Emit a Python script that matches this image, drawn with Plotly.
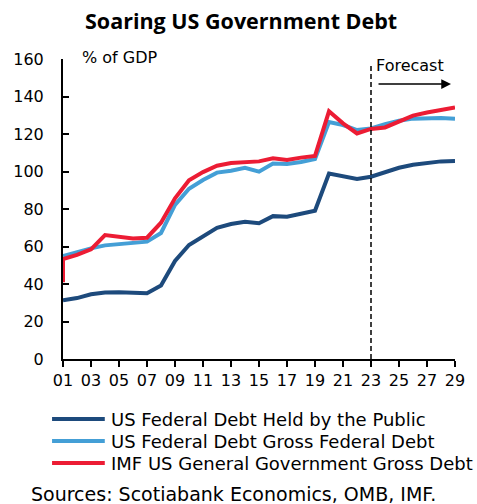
import plotly.graph_objects as go

# ---- data (% of GDP) ----
years = list(range(2001, 2030))
tick_years = list(range(2001, 2030, 2))
tick_labels = [f"{y % 100:02d}" for y in tick_years]

debt_held_by_public = [31.3, 32.5, 34.5, 35.5, 35.6, 35.3, 35.1, 39.2, 52.3, 60.8,
                       65.5, 70.0, 72.0, 73.2, 72.4, 76.2, 75.9, 77.3, 79.1, 98.9,
                       97.2, 96.0, 97.2, 99.4, 102.0, 103.6, 104.7, 105.4, 105.6]

gross_federal_debt = [54.9, 57.0, 59.0, 60.6, 61.3, 61.8, 62.6, 67.2, 82.2, 90.8,
                      95.5, 99.4, 100.4, 102.0, 99.9, 104.3, 104.0, 105.1, 106.7, 126.4,
                      124.8, 122.1, 123.0, 125.3, 127.1, 128.2, 128.5, 128.5, 128.2]

imf_years = [2001] + years
imf_general_gov_debt = [41.0, 53.3, 55.5, 58.5, 66.1, 65.2, 64.3, 64.7, 72.7, 85.7, 95.3,
                        99.7, 103.1, 104.5, 104.7, 105.4, 107.0, 106.1, 107.4, 108.3, 132.1,
                        125.7, 120.3, 122.7, 123.5, 126.9, 129.8, 131.5, 133.1, 134.2]

forecast_start = 2023
forecast_top = 157

series_names = ["US Federal Debt Held by the Public",
                "US Federal Debt Gross Federal Debt",
                "IMF US General Government Gross Debt"]
series_colors = ["#1d4a7c", "#449fd6", "#ec1c34"]

# ---- layout geometry (pixels) ----
W, H = 477, 504
ML, MR, MT, MB = 63, 20, 59, 145
PW, PH = W - ML - MR, H - MT - MB
FONT = "DejaVu Sans"
TITLE_FONT = "Open Sans"


def px_x(px):
    return (px - ML) / PW


def px_y(py):
    return (H - MB - py) / PH


fig = go.Figure()
for xs, ys, name, color in [
    (years, debt_held_by_public, series_names[0], series_colors[0]),
    (years, gross_federal_debt, series_names[1], series_colors[1]),
    (imf_years, imf_general_gov_debt, series_names[2], series_colors[2]),
]:
    fig.add_trace(go.Scatter(x=xs, y=ys, mode="lines", name=name,
                             line=dict(color=color, width=4),
                             showlegend=False, hoverinfo="skip"))

# forecast divider
fig.add_shape(type="line", xref="x", yref="y",
              x0=forecast_start, x1=forecast_start, y0=0, y1=forecast_top,
              line=dict(color="black", width=1.5, dash="5px,3px"))

annotations = [
    dict(text="<b>Soaring US Government Debt</b>", x=px_x(242), y=px_y(20),
         xanchor="center", yanchor="middle",
         font=dict(family=TITLE_FONT, size=21.5, color="black")),
    dict(text="% of GDP", x=px_x(80), y=px_y(58), xanchor="left", yanchor="middle",
         font=dict(size=16, color="black")),
    dict(text="Forecast", x=px_x(376), y=px_y(65), xanchor="left", yanchor="middle",
         font=dict(size=16, color="black")),
    dict(text="Sources: Scotiabank Economics, OMB, IMF.", x=px_x(29), y=px_y(494),
         xanchor="left", yanchor="middle", font=dict(size=19, color="black")),
    dict(text="", x=px_x(453), y=px_y(84), ax=-74, ay=0,
         axref="pixel", ayref="pixel", showarrow=True, arrowhead=2,
         arrowsize=1.3, arrowwidth=1.5, arrowcolor="black"),
]

# hand-built legend with long line keys
legend_rows = [419, 441, 463]
for name, color, py in zip(series_names, series_colors, legend_rows):
    fig.add_shape(type="line", xref="paper", yref="paper",
                  x0=px_x(52), x1=px_x(105), y0=px_y(py), y1=px_y(py),
                  line=dict(color=color, width=4))
    annotations.append(dict(text=name, x=px_x(109), y=px_y(py), xanchor="left",
                            yanchor="middle", font=dict(size=18, color="black")))

for a in annotations:
    a.setdefault("xref", "paper")
    a.setdefault("yref", "paper")
    a.setdefault("showarrow", False)

fig.update_layout(
    width=W, height=H,
    margin=dict(l=ML, r=MR, t=MT, b=MB),
    paper_bgcolor="white", plot_bgcolor="white",
    font=dict(family=FONT, size=16, color="black"),
    annotations=annotations,
    showlegend=False,
)
fig.update_xaxes(range=[2001, 2029], tickvals=tick_years, ticktext=tick_labels,
                 showgrid=False, zeroline=False, showline=True, linecolor="black",
                 linewidth=2, ticks="outside", ticklen=6, tickwidth=2, tickcolor="black",
                 tickfont=dict(size=16), layer="below traces")
fig.update_yaxes(range=[0, 160], dtick=20, showgrid=False, zeroline=False,
                 showline=True, linecolor="black", linewidth=2, ticks="inside",
                 ticklen=6, tickwidth=2, tickcolor="black", tickfont=dict(size=16),
                 ticklabelstandoff=14, layer="below traces")

fig.write_html("out.html")
